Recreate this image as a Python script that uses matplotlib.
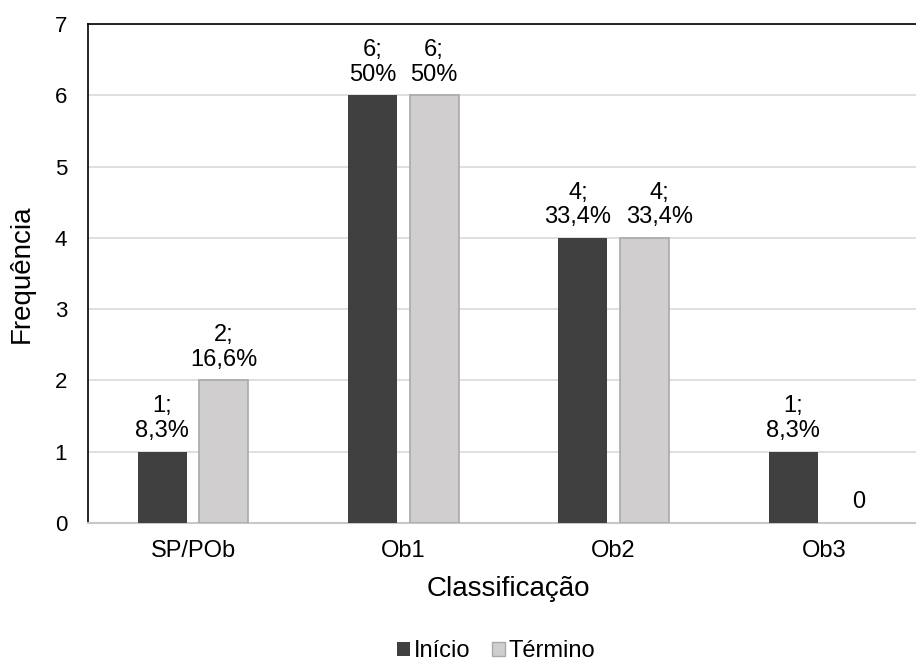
import numpy as np
import matplotlib.pyplot as plt
from matplotlib.patches import Patch

plt.rcParams['font.family'] = ['Liberation Sans', 'DejaVu Sans']

categorias = ["SP/POb", "Ob1", "Ob2", "Ob3"]
inicio = [1, 6, 4, 1]
termino = [2, 6, 4, 0]
rot_inicio = ["1;\n8,3%", "6;\n50%", "4;\n33,4%", "1;\n8,3%"]
rot_termino = ["2;\n16,6%", "6;\n50%", "4;\n33,4%", "0"]
# deslocamento horizontal dos rótulos (pontos) p/ evitar sobreposição, como no Excel
desl_inicio = [0, 0, -3.5, 0]
desl_termino = [0, 0, 11, 3]

fig = plt.figure(figsize=(9.16, 6.61), dpi=100)
ax = fig.add_axes([88/916, 1 - 523/661, 841/916, 499/661])

x = np.arange(len(categorias))
w = 0.233
off = 0.146
ax.bar(x - off, inicio, w, color="#404040", zorder=3)
ax.bar(x + off, termino, w, color="#d0cece", edgecolor="#a9a9a9",
       linewidth=[1.2 if v > 0 else 0 for v in termino], zorder=3)

for xi, v, t, d in zip(x, inicio, rot_inicio, desl_inicio):
    ax.annotate(t, (xi - off, v), xytext=(d, 7), textcoords="offset points",
                ha="center", va="bottom", fontsize=17, linespacing=1.15)
for xi, v, t, d in zip(x, termino, rot_termino, desl_termino):
    ax.annotate(t, (xi + off, v), xytext=(d, 7), textcoords="offset points",
                ha="center", va="bottom", fontsize=17, linespacing=1.15)

ax.set_xlim(-0.5, 3.5)
ax.set_ylim(0, 7)
ax.set_yticks(range(8))
ax.set_xticks(x)
ax.set_xticklabels(categorias)
ax.tick_params(axis="both", length=0)
ax.tick_params(axis="y", pad=15, labelsize=16)
ax.tick_params(axis="x", pad=12, labelsize=17)
ax.grid(axis="y", color="#d9d9d9", linewidth=1.2, zorder=0)
ax.spines["left"].set_color("black")
ax.spines["top"].set_color("black")
ax.spines["bottom"].set_color("#c8c8c8")
ax.spines["bottom"].set_linewidth(1.5)
ax.spines["right"].set_visible(False)
for s in ["left", "top"]:
    ax.spines[s].set_linewidth(1.2)

ax.set_ylabel("Frequência", fontsize=20, labelpad=14)
ax.set_xlabel("Classificação", fontsize=20, labelpad=10)

handles = [Patch(facecolor="#404040", label="Início"),
           Patch(facecolor="#d0cece", edgecolor="#a9a9a9", label="Término")]
fig.legend(handles=handles, loc="center", bbox_to_anchor=(496/916, 1 - 651/661), ncol=2,
           frameon=False, fontsize=17, handlelength=0.55, handleheight=0.55,
           handletextpad=0.15, columnspacing=0.9, borderpad=0)

fig.savefig("out.png", dpi=100)
